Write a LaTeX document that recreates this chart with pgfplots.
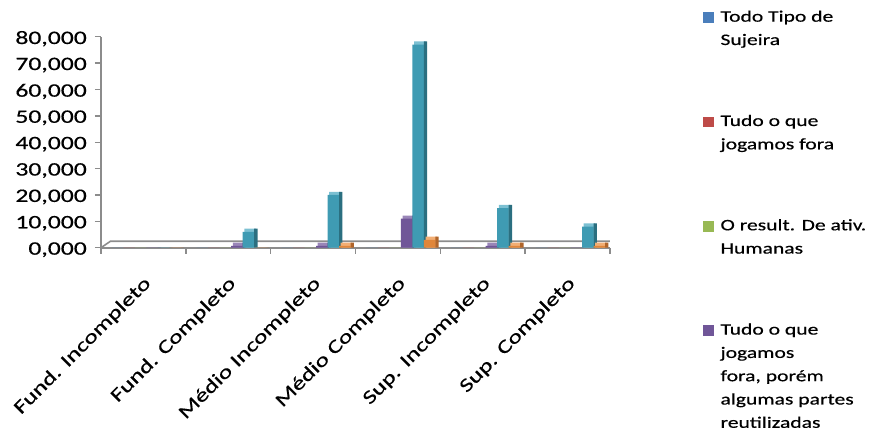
\documentclass[border=0pt]{standalone}
\usepackage{fontspec}
\setmainfont{Carlito}[FakeStretch=1.35, FakeBold=0.5]
\usepackage{pgfplots}
\pgfplotsset{compat=1.18}
\definecolor{lBlue}{HTML}{4A7EBB}
\definecolor{lRed}{HTML}{BE4B48}
\definecolor{lGreen}{HTML}{98B954}
\definecolor{pFront}{HTML}{705698}
\definecolor{pSide}{HTML}{4F3C6B}
\definecolor{pTop}{HTML}{9A86B8}
\definecolor{cFront}{HTML}{3F9BB3}
\definecolor{cSide}{HTML}{2B6F80}
\definecolor{cTop}{HTML}{7CC0D2}
\definecolor{oFront}{HTML}{E0863A}
\definecolor{oSide}{HTML}{B0652A}
\definecolor{oTop}{HTML}{F2AE74}
\definecolor{axgray}{HTML}{8C8C8C}
\begin{document}
\begin{tikzpicture}
\begin{axis}[
  scale only axis, width=509bp, height=211bp,
  xmin=-0.5, xmax=5.5, ymin=0, ymax=80,
  ybar,
  axis lines*=left,
  axis line style={draw=axgray, line width=1.6bp},
  tick align=outside,
  major tick length=6bp, minor tick length=6bp,
  ytick={0,10,...,80},
  ytick style={draw=axgray, line width=1.4bp},
  yticklabel style={font=\fontsize{19bp}{22bp}\selectfont, inner sep=0pt, xshift=-8bp, yshift=-2bp,
    /pgf/number format/.cd, fixed, fixed zerofill, precision=3, use comma, assume math mode=true},
  xtick={0,...,5},
  xticklabels={Fund. Incompleto, Fund. Completo, Médio Incompleto, Médio Completo, Sup. Incompleto, Sup. Completo},
  major x tick style={draw=none},
  minor xtick={-0.5,0.5,...,5.5},
  minor x tick style={draw=axgray, line width=1.4bp},
  xticklabel style={font=\fontsize{19bp}{22bp}\selectfont, inner sep=0pt, xshift=-1bp, yshift=-21bp, rotate=45, anchor=north east},
  legend image code/.code={\fill[#1,/tikz/.cd] (0bp,-1.3bp) rectangle (10.7bp,9.4bp);},
  legend style={at={(1.182,1.1495)}, anchor=north west, draw=none, fill=none, inner sep=0pt,
    row sep=86.5bp, column sep=7bp, cells={anchor=base west},
    nodes={inner sep=0pt, font=\fontsize{16bp}{23.3bp}\selectfont}},
]
% floor
\draw[axgray, line width=1.6bp] (axis cs:-0.5,0) -- ([shift={(9.5bp,6.5bp)}]axis cs:-0.5,0) -- ([shift={(9.5bp,6.5bp)}]axis cs:5.5,0) -- ([shift={(1bp,0bp)}]axis cs:5.5,0);

\addplot[fill=lBlue, draw=none, bar width=11.5bp, bar shift=-25.75bp] coordinates {(0,0) (1,0) (2,0) (3,0) (4,0) (5,0)};
\addlegendentry{\begin{tabular}[t]{@{}l@{}}Todo Tipo de\\Sujeira\end{tabular}}
\addplot[fill=lRed, draw=none, bar width=11.5bp, bar shift=-14.25bp] coordinates {(0,0) (1,0) (2,0) (3,0) (4,0) (5,0)};
\addlegendentry{\begin{tabular}[t]{@{}l@{}}Tudo o que\\jogamos fora\end{tabular}}
\addplot[fill=lGreen, draw=none, bar width=11.5bp, bar shift=-2.75bp] coordinates {(0,0) (1,0) (2,0) (3,0) (4,0) (5,0)};
\addlegendentry{\begin{tabular}[t]{@{}l@{}}O result. De ativ.\\Humanas\end{tabular}}

% purple: top cap, front, side
\addplot[forget plot, fill=pTop, draw=none, bar width=11.5bp, bar shift=10.4bp] coordinates {(0,0) (1,1.9) (2,1.9) (3,12.2) (4,1.9) (5,0)};
\addplot[fill=pFront, draw=none, bar width=11.5bp, bar shift=8.75bp] coordinates {(0,0) (1,0.7) (2,0.7) (3,11) (4,0.7) (5,0)};
\addlegendentry{\begin{tabular}[t]{@{}l@{}}Tudo o que\\jogamos\\fora, porém\\algumas partes\\reutilizadas\end{tabular}}
\addplot[forget plot, fill=pSide, draw=none, bar width=3.3bp, bar shift=16.15bp] coordinates {(0,0) (1,1.9) (2,1.9) (3,12.2) (4,1.9) (5,0)};

% cyan
\addplot[forget plot, fill=cTop, draw=none, bar width=11.5bp, bar shift=21.9bp] coordinates {(0,0) (1,7.2) (2,21.2) (3,78.2) (4,16.2) (5,9.2)};
\addplot[forget plot, fill=cFront, draw=none, bar width=11.5bp, bar shift=20.25bp] coordinates {(0,0) (1,6) (2,20) (3,77) (4,15) (5,8)};
\addplot[forget plot, fill=cSide, draw=none, bar width=3.3bp, bar shift=27.65bp] coordinates {(0,0) (1,7.2) (2,21.2) (3,78.2) (4,16.2) (5,9.2)};

% orange
\addplot[forget plot, fill=oTop, draw=none, bar width=11.5bp, bar shift=33.4bp] coordinates {(0,0) (1,0) (2,1.9) (3,4.2) (4,1.9) (5,1.9)};
\addplot[forget plot, fill=oFront, draw=none, bar width=11.5bp, bar shift=31.75bp] coordinates {(0,0) (1,0) (2,0.7) (3,3) (4,0.7) (5,0.7)};
\addplot[forget plot, fill=oSide, draw=none, bar width=3.3bp, bar shift=39.15bp] coordinates {(0,0) (1,0) (2,1.9) (3,4.2) (4,1.9) (5,1.9)};
\end{axis}
\pgfresetboundingbox
\path[use as bounding box] (-101bp,-184.3bp) rectangle (770bp,247.7bp);
\end{tikzpicture}
\end{document}
